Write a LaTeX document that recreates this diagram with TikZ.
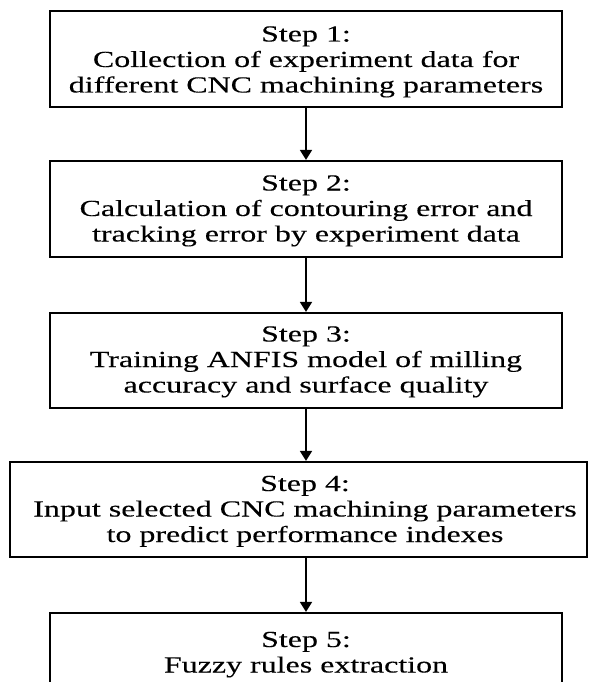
\documentclass[tikz,border=0pt]{standalone}
\usepackage{fontspec}
\setmainfont{Liberation Serif}[FakeStretch=1.39, FakeBold=0.2]
\usetikzlibrary{arrows.meta}
\newcommand{\steplines}[1]{\begin{tabular}[t]{@{}c@{}}#1\end{tabular}}
\tikzset{
  stepbox/.style={draw=black, line width=2.2pt, fill=none, inner sep=0pt},
  steptext/.style={inner sep=0pt, anchor=base,
    font=\fontsize{23}{25.5}\selectfont},
  flow/.style={line width=1.8pt, -{Triangle[length=10pt,width=12pt]}}
}
\begin{document}
\begin{tikzpicture}[x=1pt, y=-1pt]
\path[use as bounding box, clip] (0,0) rectangle (589,682);
% boxes
\node[stepbox, minimum width=512pt, minimum height=96pt] (b1) at (306,59) {};
\node[stepbox, minimum width=512pt, minimum height=96pt] (b2) at (306,209) {};
\node[stepbox, minimum width=512pt, minimum height=95pt] (b3) at (306,360.5) {};
\node[stepbox, minimum width=577pt, minimum height=95pt] (b4) at (298.5,509.5) {};
\node[stepbox, minimum width=512pt, minimum height=96pt] (b5) at (306,661) {};
% texts (anchor = baseline of first line)
\node[steptext] (t1) at (306,41.5) {\steplines{Step 1:\\Collection of experiment data for\\different CNC machining parameters}};
\node[steptext] (t2) at (306,190.5) {\steplines{Step 2:\\Calculation of contouring error and\\tracking error by experiment data}};
\node[steptext] (t3) at (306,341.5) {\steplines{Step 3:\\Training ANFIS model of milling\\accuracy and surface quality}};
\node[steptext] (t4) at (305,491) {\steplines{Step 4:\\Input selected CNC machining parameters\\to predict performance indexes}};
\node[steptext] (t5) at (306,647) {\steplines{Step 5:\\Fuzzy rules extraction}};
% arrows
\draw[flow] (b1.south) -- (b2.north);
\draw[flow] (b2.south) -- (b3.north);
\draw[flow] (b3.south) -- (b3.south |- b4.north);
\draw[flow] (b3.south |- b4.south) -- (b5.north);
\end{tikzpicture}
\end{document}
